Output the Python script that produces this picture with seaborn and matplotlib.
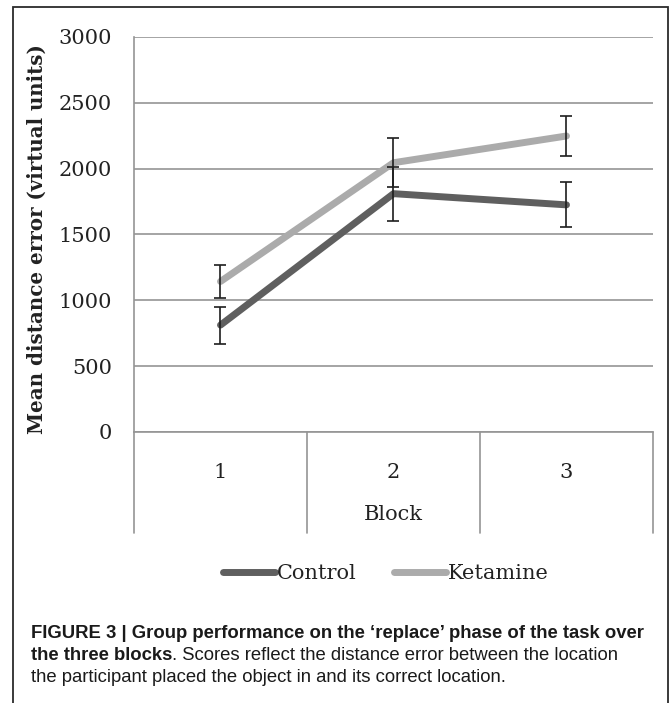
import pandas as pd
import seaborn as sns
import matplotlib.pyplot as plt
from matplotlib.patches import Rectangle
from matplotlib.transforms import blended_transform_factory

# values
blocks = [1, 2, 3]
control = [812, 1810, 1725]
control_err = [140, 205, 170]
ketamine = [1143, 2045, 2248]
ketamine_err = [122, 188, 152]
groups = ["Control", "Ketamine"]
colors = ["#5f5f5f", "#ababab"]

df = pd.DataFrame({
    "Block": blocks * 2,
    "dist": control + ketamine,
    "err": control_err + ketamine_err,
    "group": [groups[0]] * 3 + [groups[1]] * 3,
})

sns.set_style("white")
plt.rcParams["font.family"] = ["DejaVu Serif"]

fig = plt.figure(figsize=(6.7, 7.03), dpi=100)
ax = fig.add_axes([0.2, 0.3855, 0.7746, 0.5619])

sns.lineplot(data=df, x="Block", y="dist", hue="group", palette=colors,
             linewidth=5, solid_capstyle="round", legend=False, ax=ax, zorder=2)

for g in groups:
    sub = df[df.group == g]
    ax.errorbar(sub.Block, sub.dist, yerr=sub.err, fmt="none", ecolor="#1e1e1e",
                elinewidth=1.2, capsize=4.5, capthick=1.2, zorder=3)

grid_c = "#959595"
ax.set_xlim(0.5, 3.5)
ax.set_ylim(0, 3000)
ax.set_yticks(range(0, 3001, 500))
ax.set_xticks(blocks)
ax.yaxis.grid(True, color=grid_c, lw=1.2)
ax.set_axisbelow(True)
for s in ["top", "right"]:
    ax.spines[s].set_visible(False)
for s in ["left", "bottom"]:
    ax.spines[s].set_color(grid_c)
    ax.spines[s].set_linewidth(1.2)

ax.tick_params(axis="y", length=5, width=1.2, color=grid_c, pad=11,
               labelsize=15, labelcolor="#222222")
ax.tick_params(axis="x", length=0, pad=22, labelsize=15, labelcolor="#222222")

ax.set_ylabel("")
ax.set_xlabel("Block", fontsize=15, color="#222222")
ax.xaxis.set_label_coords(0.5, -0.185)

# category separators under the axis
trans = blended_transform_factory(ax.transData, ax.transAxes)
for x in [0.5, 1.5, 2.5, 3.5]:
    ax.plot([x, x], [0, -0.256], transform=trans, clip_on=False,
            color=grid_c, lw=1.2)

fig.text(37 / 670, 1 - 239 / 703, "Mean distance error (virtual units)",
         rotation=90, ha="center", va="center", fontsize=14.3,
         fontweight="bold", color="#222222")

handles = ax.get_lines()[:2]
fig.legend(handles, groups, loc="center", bbox_to_anchor=(0.576, 0.1835),
           ncol=2, frameon=False, fontsize=15, handlelength=2.5,
           handletextpad=0.1, columnspacing=1.8, labelcolor="#222222")

# caption
cap = dict(family=["Liberation Sans Narrow", "Liberation Sans"], fontsize=13.3,
           color="#1a1a1a")
fig.text(31 / 670, 1 - 638 / 703,
         "FIGURE 3 | Group performance on the \u2018replace\u2019 phase of the task over",
         fontweight="bold", va="baseline", **cap)
t2 = fig.text(31 / 670, 1 - 660 / 703, "the three blocks", fontweight="bold",
              va="baseline", **cap)
ax.annotate(". Scores reflect the distance error between the location",
            xy=(1, 0), xycoords=t2, va="bottom", ha="left",
            annotation_clip=False, **cap)
fig.text(31 / 670, 1 - 682 / 703,
         "the participant placed the object in and its correct location.",
         va="baseline", **cap)

fig.add_artist(Rectangle((13 / 670, -0.01), 655 / 670, 696 / 703 + 0.01,
                         transform=fig.transFigure, fill=False,
                         edgecolor="#2b2b2b", lw=1.3))

fig.savefig("out.png", dpi=100)
